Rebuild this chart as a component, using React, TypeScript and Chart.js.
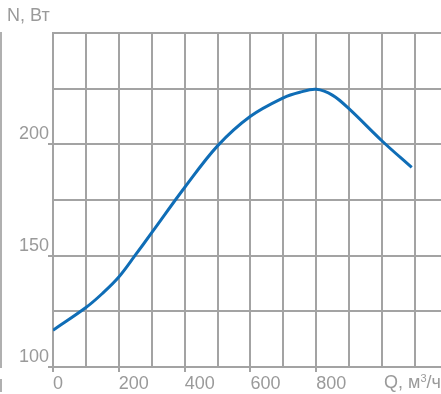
import React, { useEffect, useRef } from "react";
import { Chart, registerables } from "chart.js";

Chart.register(...registerables);

// Fan power curve: N (W) against airflow Q (m³/h)
const flowQ = [0, 100, 150, 200, 250, 300, 400, 500, 600, 700, 750, 800, 850, 900, 1000, 1090];
const powerN = [116.5, 126.7, 133, 140.4, 150.2, 160.3, 180.6, 199.3, 212.6, 220.9, 223.4, 224.7, 222, 215.9, 201.5, 189.6];
const yLabelled = [100, 150, 200];
const xLabelled = [0, 200, 400, 600, 800];

const GRID = "#a3a3a3";
const TEXT = "#9a9a9a";
const FONT = '"Liberation Sans", Arial, Helvetica, sans-serif';

export default function App() {
  const ref = useRef<HTMLCanvasElement | null>(null);

  useEffect(() => {
    document.body.style.margin = "0";
    const canvas = ref.current;
    if (!canvas) return;
    const chart = new Chart(canvas, {
      type: "line",
      data: {
        datasets: [
          {
            data: flowQ.map((q, i) => ({ x: q, y: powerN[i] })),
            borderColor: "#0f6db6",
            borderWidth: 3,
            pointRadius: 0,
            tension: 0.35,
            fill: false,
          },
        ],
      },
      options: {
        responsive: false,
        animation: false,
        layout: { padding: { top: 33, right: 0, left: 0, bottom: 0 } },
        plugins: { legend: { display: false }, tooltip: { enabled: false } },
        scales: {
          x: {
            type: "linear",
            min: 0,
            max: 1179,
            afterFit: (s: any) => {
              s.height = 27;
            },
            border: { color: GRID, width: 2 },
            grid: {
              color: GRID,
              lineWidth: 2,
              tickLength: 5,
              tickColor: (ctx: any) =>
                ctx.tick && xLabelled.includes(ctx.tick.value) ? GRID : "rgba(0,0,0,0)",
            },
            ticks: {
              stepSize: 100,
              includeBounds: false,
              maxRotation: 0,
              autoSkip: false,
              align: "start",
              padding: 1,
              color: TEXT,
              font: { family: FONT, size: 18 },
              callback: (v: any) => (xLabelled.includes(Number(v)) ? String(v) : ""),
            },
          },
          y: {
            type: "linear",
            min: 100,
            max: 250,
            afterFit: (s: any) => {
              s.width = 53;
            },
            border: { color: GRID, width: 2 },
            grid: {
              color: GRID,
              lineWidth: 2,
              tickLength: 5,
              tickColor: (ctx: any) =>
                ctx.tick && yLabelled.includes(ctx.tick.value) ? GRID : "rgba(0,0,0,0)",
            },
            ticks: {
              stepSize: 25,
              autoSkip: false,
              padding: -1,
              labelOffset: -10,
              color: TEXT,
              font: { family: FONT, size: 18 },
              callback: (v: any) => (yLabelled.includes(Number(v)) ? String(v) : ""),
            },
          },
        },
      },
    });
    return () => chart.destroy();
  }, []);

  const label: React.CSSProperties = {
    position: "absolute",
    fontFamily: FONT,
    fontSize: 18,
    color: TEXT,
    whiteSpace: "nowrap",
    lineHeight: "18px",
  };

  return (
    <div style={{ position: "relative", width: 441, height: 394, overflow: "hidden", background: "#fff" }}>
      <canvas ref={ref} width={441} height={394} style={{ display: "block" }} />
      <div style={{ ...label, left: 7, top: 6 }}>N, Вт</div>
      <div style={{ ...label, left: 384, top: 373 }}>
        Q, м<sup style={{ fontSize: 11, verticalAlign: "top", lineHeight: "11px" }}>3</sup>/ч
      </div>
      <div style={{ position: "absolute", left: 0, top: 32, width: 2, height: 336, background: "#b0b0b0" }} />
      <div style={{ position: "absolute", left: 0, top: 379, width: 2, height: 13, background: "#b0b0b0" }} />
    </div>
  );
}
